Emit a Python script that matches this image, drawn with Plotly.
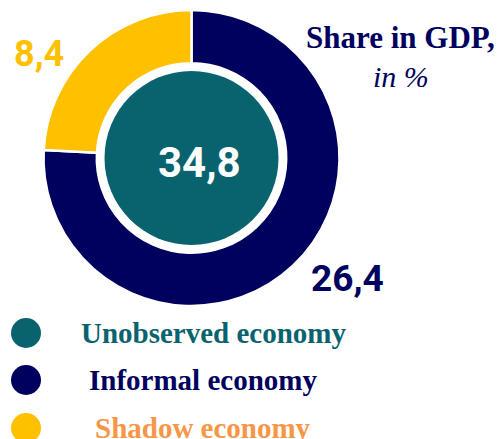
import plotly.graph_objects as go

# Data
categories = ["Informal economy", "Shadow economy"]
values = [26.4, 8.4]
total_label = "Unobserved economy"
total_value = 34.8
legend_labels = ["Unobserved economy", "Informal economy", "Shadow economy"]

NAVY = "#00005E"
TEAL = "#08636F"
YELLOW = "#FFC000"
ORANGE = "#F79646"

W, H = 501, 439

def px_x(x):
    return x / W

def px_y(y):
    return 1 - y / H

fig = go.Figure()

# Outer donut
cx, cy, r = 191.5, 158, 148
fig.add_trace(go.Pie(
    labels=categories, values=values, sort=False, direction="clockwise",
    rotation=0, hole=0.64, textinfo="none", hoverinfo="label+value",
    marker=dict(colors=[NAVY, YELLOW], line=dict(color="white", width=2.5)),
    domain=dict(x=[px_x(cx - r), px_x(cx + r)], y=[px_y(cy + r), px_y(cy - r)]),
    showlegend=False,
))

# Inner total circle
ri = 87
fig.add_trace(go.Pie(
    labels=[total_label], values=[total_value], textinfo="none", hoverinfo="label+value",
    marker=dict(colors=[TEAL], line=dict(width=0)),
    domain=dict(x=[px_x(cx - ri), px_x(cx + ri)], y=[px_y(cy + ri), px_y(cy - ri)]),
    showlegend=False,
))

num_font = "Roboto"
serif = "Liberation Serif"

def fmt(v):
    return f"{v:.1f}".replace(".", ",")

annotations = [
    dict(text=f"<b>{fmt(total_value)}</b>", x=px_x(cx + 8), y=px_y(162), font=dict(family=num_font, size=42, color="white")),
    dict(text=f"<b>{fmt(values[1])}</b>", x=px_x(39), y=px_y(54), font=dict(family=num_font, size=36, color=YELLOW)),
    dict(text=f"<b>{fmt(values[0])}</b>", x=px_x(347), y=px_y(278), font=dict(family=num_font, size=37, color=NAVY)),
    dict(text="<b>Share in GDP,</b>", x=px_x(400), y=px_y(37), font=dict(family=serif, size=31, color=NAVY)),
    dict(text="<i>in %</i>", x=px_x(401), y=px_y(76), font=dict(family=serif, size=30, color=NAVY)),
]

legend_colors = [TEAL, NAVY, YELLOW]
legend_text_colors = [TEAL, NAVY, ORANGE]
legend_y = [333, 380, 428]
legend_x = [214, 203, 203]
shapes = []
for lab, c, tc, ly, lx in zip(legend_labels, legend_colors, legend_text_colors, legend_y, legend_x):
    shapes.append(dict(type="circle", xref="paper", yref="paper",
                       x0=px_x(11), x1=px_x(41), y0=px_y(ly + 15), y1=px_y(ly - 15),
                       fillcolor=c, line=dict(width=0)))
    annotations.append(dict(text=f"<b>{lab}</b>", x=px_x(lx), y=px_y(ly),
                            font=dict(family=serif, size=29, color=tc)))

for a in annotations:
    a.update(xref="paper", yref="paper", showarrow=False, xanchor="center", yanchor="middle")

fig.update_layout(
    width=W, height=H, margin=dict(l=0, r=0, t=0, b=0),
    paper_bgcolor="white", plot_bgcolor="white",
    annotations=annotations, shapes=shapes, showlegend=False,
)

fig.write_html("out.html", config={"displayModeBar": False},
               post_script="document.body.style.margin='0';")
